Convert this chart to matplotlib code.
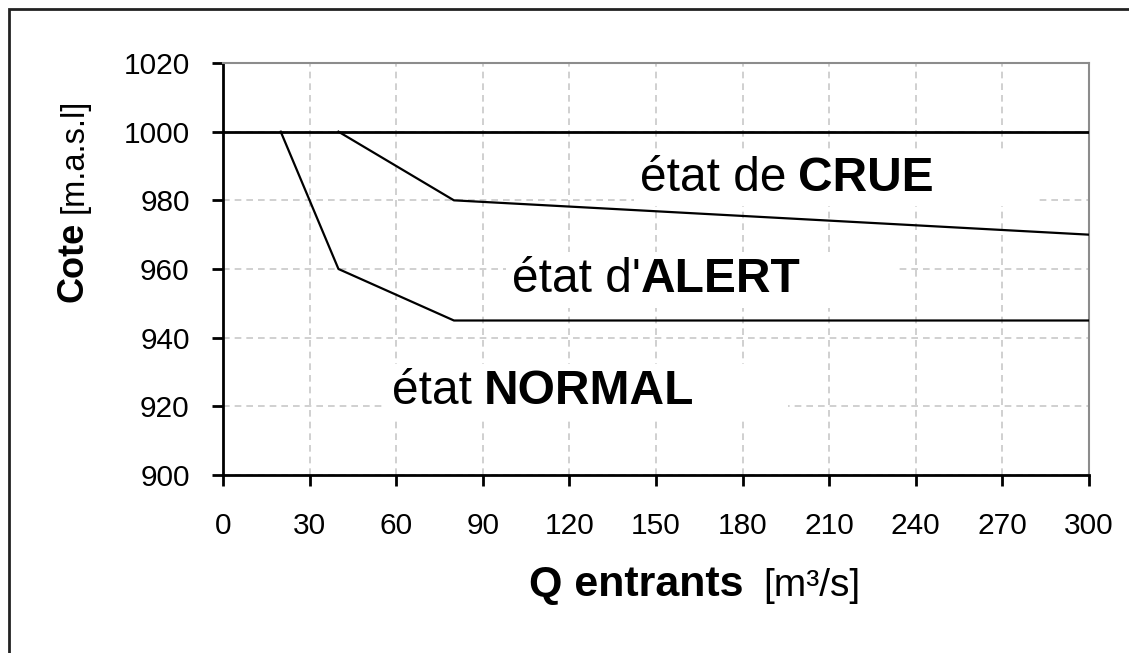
import numpy as np
import matplotlib.pyplot as plt
from matplotlib.offsetbox import TextArea, HPacker, DrawingArea, AnnotationBbox
from matplotlib.patches import Rectangle

plt.rcParams['font.family'] = ['Liberation Sans', 'DejaVu Sans']

# === DONNEES ===
q_crue = [0, 300]
cote_crue = [1000, 1000]
q_alert = [40, 80, 300]
cote_alert = [1000, 980, 970]
q_normal = [20, 40, 80, 300]
cote_normal = [1000, 960, 945, 945]
x_ticks = np.arange(0, 301, 30)
y_ticks = np.arange(900, 1021, 20)
etats = [("état de ", "CRUE"), ("état d'", "ALERT"), ("état ", "NORMAL")]

W, H = 1129, 653
PX = 0.72  # pixels -> points (dpi 100)

fig = plt.figure(figsize=(W / 100, H / 100), dpi=100)
ax = fig.add_axes([223 / W, 178 / H, 866 / W, 412 / H])

ax.plot(q_crue, cote_crue, color='black', lw=2, zorder=4)
ax.plot(q_alert, cote_alert, color='black', lw=1.6, zorder=4)
ax.plot(q_normal, cote_normal, color='black', lw=1.6, zorder=4)

ax.set_xlim(0, 300)
ax.set_ylim(900, 1020)
ax.set_xticks(x_ticks)
ax.set_yticks(y_ticks)
ax.grid(True, ls=(0, (4, 3)), color='#c8c8c8', lw=1.2)
ax.set_axisbelow(True)
ax.tick_params(labelsize=21.5, direction='out', length=8, width=2, color='black')
ax.tick_params(axis='y', pad=16)
ax.tick_params(axis='x', pad=19)
for s in ['left', 'bottom']:
    ax.spines[s].set_linewidth(2)
    ax.spines[s].set_color('black')
for s in ['top', 'right']:
    ax.spines[s].set_linewidth(1.5)
    ax.spines[s].set_color('#8c8c8c')


# étiquettes des états (boîtes blanches à la Excel)
def etiquette(xy, normal, gras, gap, extra):
    t1 = TextArea(normal.rstrip(), textprops=dict(fontsize=34.5))
    t2 = TextArea(gras, textprops=dict(fontsize=34.5, fontweight='bold'))
    box = HPacker(children=[t1, DrawingArea(gap * PX, 1), t2, DrawingArea(extra * PX, 1)],
                  align='baseline', pad=0, sep=0)
    ab = AnnotationBbox(box, xy, xycoords='data', box_alignment=(0, 0.5), frameon=True,
                        pad=0.4, bboxprops=dict(fc='white', ec='none'), zorder=3)
    ax.add_artist(ab)


etiquette((144.4, 986.5), *etats[0], gap=12, extra=95)
etiquette((100.1, 956.8), *etats[1], gap=0, extra=90)
etiquette((58.5, 924.2), *etats[2], gap=12, extra=88)

# titre axe x
xl = HPacker(children=[TextArea("Q entrants", textprops=dict(fontsize=31, fontweight='bold')),
                       DrawingArea(20 * PX, 1),
                       TextArea("[m³/s]", textprops=dict(fontsize=28))],
             align='baseline', pad=0, sep=0)
fig.add_artist(AnnotationBbox(xl, (695 / W, (H - 585) / H), xycoords='figure fraction',
                              box_alignment=(0.5, 0.5), frameon=False))

# titre axe y
t1 = fig.text(82 / W, (H - 302) / H, "Cote", rotation=90, rotation_mode='anchor',
              ha='left', va='baseline', fontsize=26, fontweight='bold')
ax.annotate("[m.a.s.l]", xy=(1, 1), xycoords=t1, xytext=(0, 6), textcoords='offset points',
            rotation=90, ha='right', va='bottom', fontsize=23.5)

# cadre extérieur
fig.patches.append(Rectangle((9 / W, -0.05), 1.1, 1 - 9 / H + 0.05, transform=fig.transFigure,
                             fill=False, ec='#222222', lw=2))

fig.savefig('out.png', dpi=100)
